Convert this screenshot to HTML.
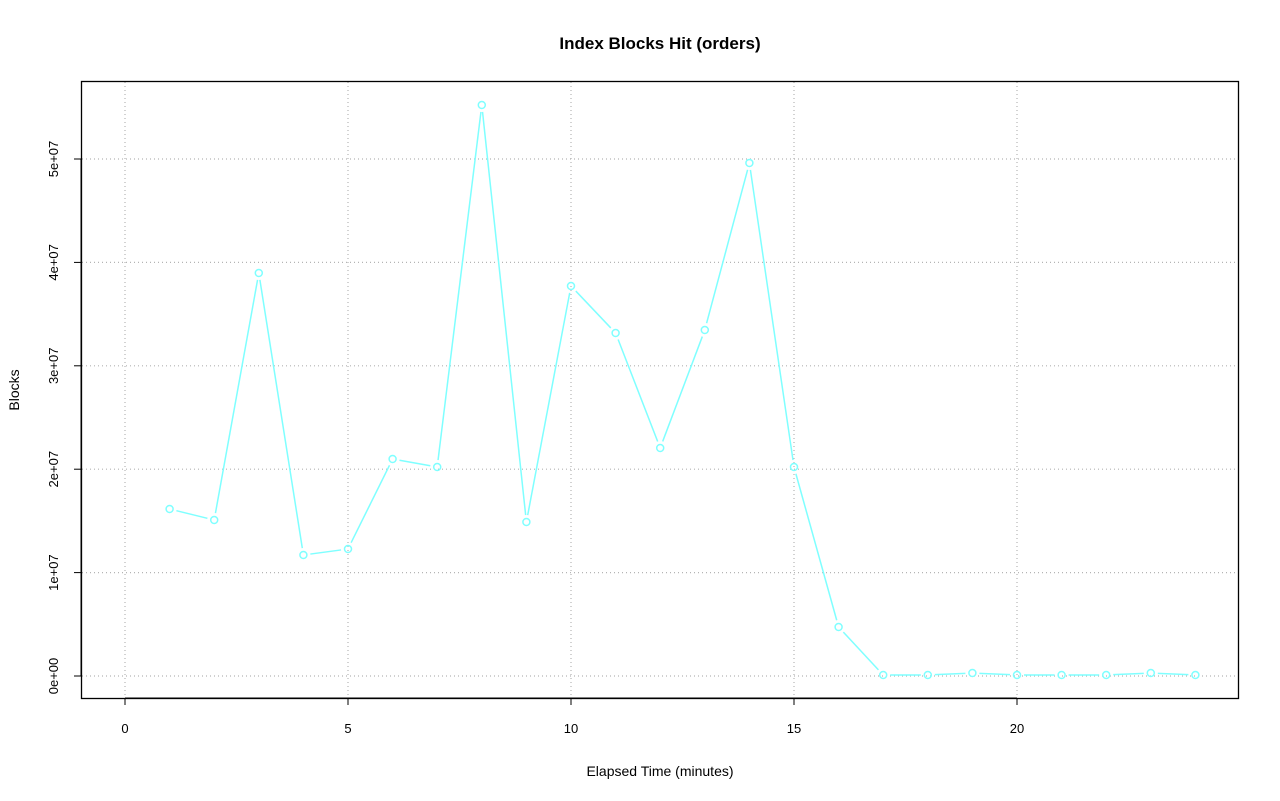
<!DOCTYPE html>
<html><head><meta charset="utf-8"><style>
html,body{margin:0;padding:0;background:#fff;}
svg{display:block;font-family:"Liberation Sans",sans-serif;}
</style></head><body>
<svg id="s" width="1280" height="801" xmlns="http://www.w3.org/2000/svg">
<rect width="1280" height="801" fill="#fff"/>
<text x="660" y="49" text-anchor="middle" font-size="17" font-weight="bold">Index Blocks Hit (orders)</text>
<text x="660" y="776" text-anchor="middle" font-size="14">Elapsed Time (minutes)</text>
<text transform="translate(19,390) rotate(-90)" text-anchor="middle" font-size="14">Blocks</text>
<g id="grid" stroke="#b4b4b4" stroke-dasharray="1,3" stroke-width="1.2"></g>
<g id="axes" stroke="#000" stroke-width="1"></g>
<g id="labs" font-size="13"></g>
<g id="data" stroke="#7fffff" fill="none" stroke-width="1.5"></g>
<rect x="81.5" y="81.5" width="1157" height="617" fill="none" stroke="#000" stroke-width="1.3"/>
</svg>
<script>
const ns="http://www.w3.org/2000/svg";
function el(p,t,a,txt){const e=document.createElementNS(ns,t);for(const k in a)e.setAttribute(k,a[k]);if(txt!==undefined)e.textContent=txt;p.appendChild(e);return e;}
const X=v=>125+v*44.6, Y=v=>676-v*10.34;
const g=document.getElementById('grid'),ax=document.getElementById('axes'),lb=document.getElementById('labs'),d=document.getElementById('data');
for(let i=0;i<=20;i+=5){const x=X(i);el(g,'line',{x1:x,x2:x,y1:82,y2:698});el(ax,'line',{x1:x,x2:x,y1:698,y2:705});el(lb,'text',{x:x,y:733,'text-anchor':'middle'},String(i));}
el(ax,'line',{x1:X(0),x2:X(20),y1:698,y2:698});
const yl=['0e+00','1e+07','2e+07','3e+07','4e+07','5e+07'];
for(let i=0;i<=5;i++){const y=Y(i*10);el(g,'line',{x1:82,x2:1238,y1:y,y2:y});el(ax,'line',{x1:74,x2:81,y1:y,y2:y});el(lb,'text',{transform:`translate(58,${y}) rotate(-90)`,'text-anchor':'middle'},yl[i]);}
el(ax,'line',{x1:81,x2:81,y1:Y(0),y2:Y(50)});
const py=[509,520,273,555,549,459,467,105,522,286,333,448,330,163,467,627,675,675,673,675,675,675,673,675];
const pts=py.map((y,i)=>[X(i+1),y]);
for(let i=0;i<pts.length-1;i++){const [x1,y1]=pts[i],[x2,y2]=pts[i+1];const dx=x2-x1,dy=y2-y1,L=Math.hypot(dx,dy),g2=7;if(L>2*g2){const ux=dx/L,uy=dy/L;el(d,'line',{x1:x1+ux*g2,y1:y1+uy*g2,x2:x2-ux*g2,y2:y2-uy*g2});}}
pts.forEach(([x,y])=>el(d,'circle',{cx:x,cy:y,r:3.5}));
</script>
</body></html>
